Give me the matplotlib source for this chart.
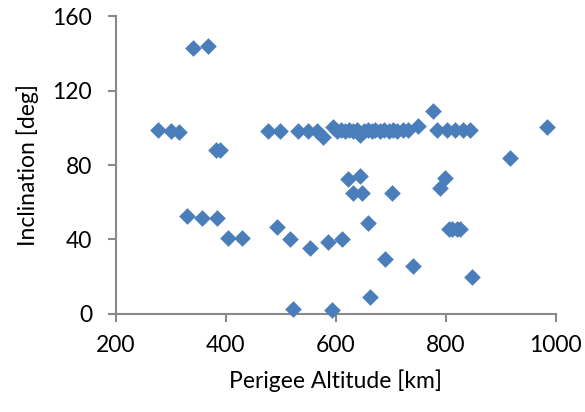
import matplotlib
matplotlib.use("Agg")
import matplotlib.pyplot as plt

# perigee altitude [km] and inclination [deg]
altitude = [340, 367,
            276, 300, 315, 383, 389,
            476, 498, 531, 549, 565, 576, 595,
            603, 610, 617, 624, 631, 638, 644, 651, 658, 665, 672, 680, 688,
            696, 704, 712, 722, 732, 749, 776,
            784, 802, 816, 831, 844, 984, 916,
            622, 644, 631, 647, 702, 658, 789, 798,
            805, 812, 820, 826, 847,
            329, 356, 384, 404, 429, 493, 516, 553, 585, 611,
            689, 740, 662, 522, 593]
inclination = [143, 144,
               99, 98, 97.5, 88, 88,
               98, 98, 98.5, 98.5, 98, 95, 100.5,
               98, 99, 98.5, 99, 98, 99, 96, 98.5, 99, 98, 99, 98.5, 99,
               98.5, 99, 98.5, 99, 99, 101, 109,
               99, 99, 99, 99, 99, 100.5, 84,
               72.5, 74, 65, 65, 65, 49, 67.5, 73,
               45.5, 45.5, 45.5, 45.5, 20,
               52.5, 51.5, 51.5, 41, 41, 46.5, 40.5, 35.5, 38.5, 40.5,
               29.5, 25.5, 9, 2.5, 2]

plt.rcParams['font.family'] = ['Lato', 'DejaVu Sans']

fig = plt.figure(figsize=(5.85, 4.12), dpi=100)
ax = fig.add_axes([0.198, 0.238, 0.752, 0.723])
ax.scatter(altitude, inclination, marker='D', s=72, color='#4A7EBB',
           linewidths=0, clip_on=False, zorder=3)

ax.set_xlim(200, 1000)
ax.set_ylim(0, 160)
ax.set_xticks(range(200, 1001, 200))
ax.set_yticks(range(0, 161, 40))
for side in ['top', 'right']:
    ax.spines[side].set_visible(False)
for side in ['left', 'bottom']:
    ax.spines[side].set_color('#898989')
    ax.spines[side].set_linewidth(1.5)
ax.tick_params(colors='#898989', width=1.5, length=6, labelsize=16.5,
               labelcolor='black')
ax.tick_params(axis='x', pad=9)
ax.tick_params(axis='y', pad=11)
ax.set_xlabel('Perigee Altitude [km]', fontsize=16.5, labelpad=10)
ax.set_ylabel('Inclination [deg]', fontsize=16.5, labelpad=10)

fig.savefig('out.png', dpi=100)
